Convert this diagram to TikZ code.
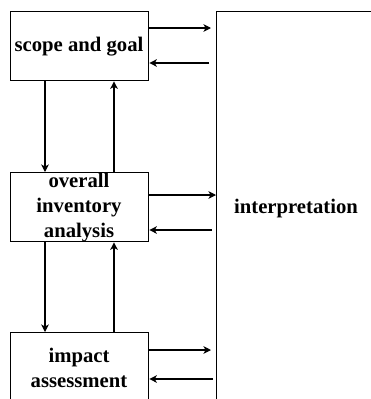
\documentclass[tikz,border=0pt]{standalone}
\usepackage{fontspec}
\setmainfont{Liberation Serif}
\usetikzlibrary{arrows.meta}
\begin{document}
\begin{tikzpicture}[x=1pt,y=-1pt,
  box/.style={draw, line width=1.3pt, minimum width=138pt, minimum height=69pt, inner sep=0pt, anchor=north west},
  lbl/.style={font=\fontsize{20.7}{25}\selectfont\bfseries, align=center, inner sep=0pt},
  arr/.style={line width=1.1pt, -{Stealth[length=7.5pt,width=7.5pt,inset=2pt]}}]
\useasboundingbox (0,0) rectangle (371,399);
\clip (0,0) rectangle (371,399);
\node[box] (sg) at (10,11) {};
\node[box] (inv) at (10,172) {};
\node[box] (imp) at (10,332) {};
\node[box, minimum width=160pt, minimum height=396pt] (interp) at (216,11) {};
\node[lbl] (sgt) at (79,47) {scope and goal};
\node[lbl] (invt) at (79,208) {overall\\inventory\\analysis};
\node[lbl] (impt) at (79,368) {impact\\assessment};
\node[lbl] (intt) at (296,209) {interpretation};
\draw[arr] (sg.east |- 0,28) -- ([xshift=-5pt]interp.west |- 0,28);
\draw[arr] ([xshift=-7pt]interp.west |- 0,63) -- (sg.east |- 0,63);
\draw[arr] (inv.east |- 0,195) -- (interp.west |- 0,195);
\draw[arr] ([xshift=-4pt]interp.west |- 0,230) -- (inv.east |- 0,230);
\draw[arr] (imp.east |- 0,350) -- ([xshift=-5pt]interp.west |- 0,350);
\draw[arr] ([xshift=-3pt]interp.west |- 0,379) -- (imp.east |- 0,379);
\draw[arr] (sg.south -| 45,0) -- (inv.north -| 45,0);
\draw[arr] (inv.north -| 114,0) -- (sg.south -| 114,0);
\draw[arr] (inv.south -| 45,0) -- (imp.north -| 45,0);
\draw[arr] (imp.north -| 114,0) -- (inv.south -| 114,0);
\end{tikzpicture}
\end{document}
